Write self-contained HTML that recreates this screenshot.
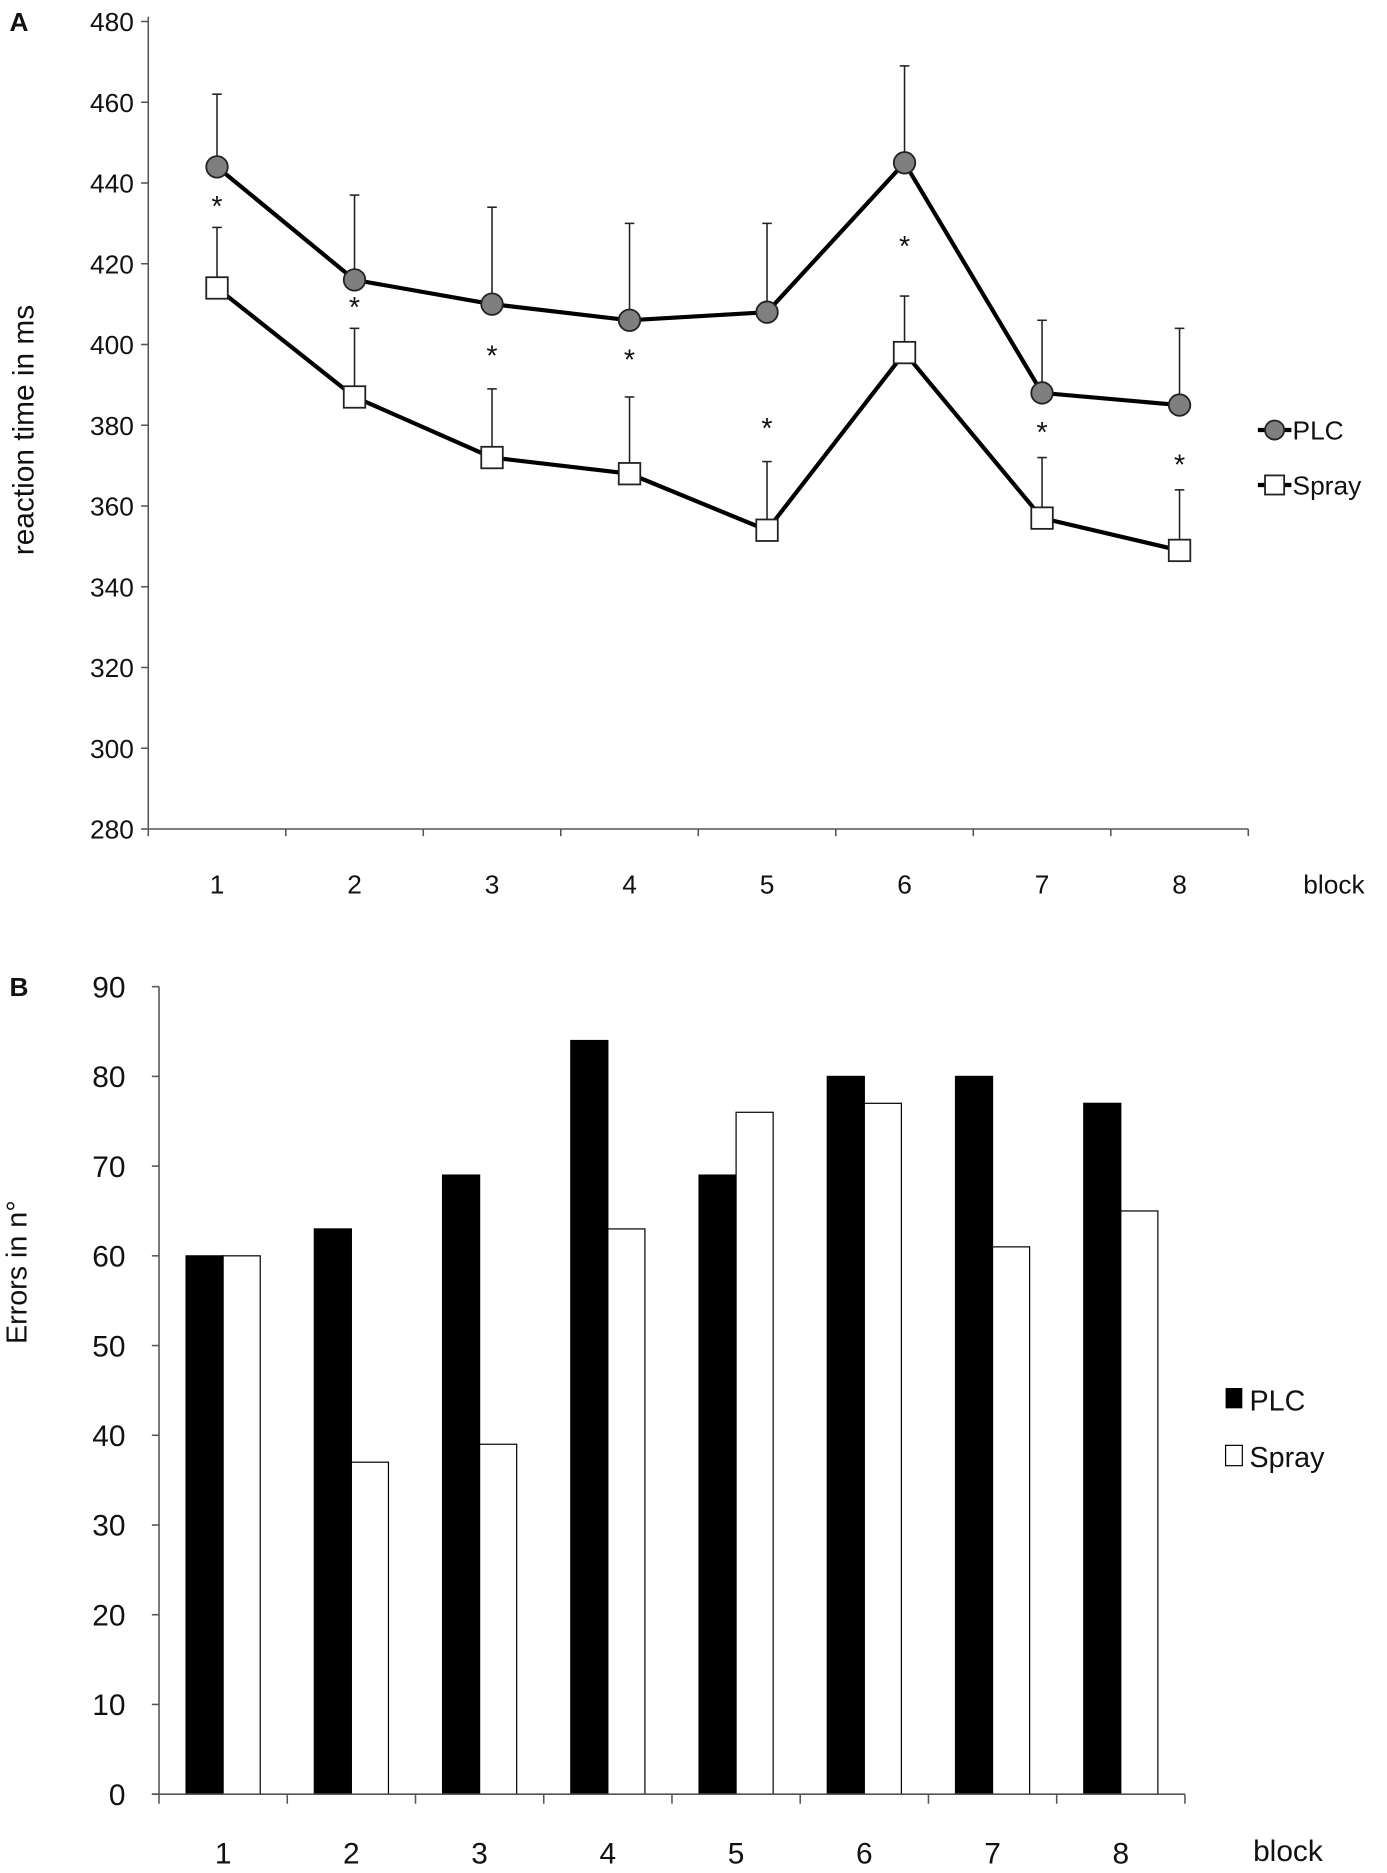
<!DOCTYPE html>
<html><head><meta charset="utf-8"><style>
html,body{margin:0;padding:0;background:#fff;}
svg{display:block;}
text{font-family:"Liberation Sans",sans-serif;fill:#111;}
</style></head><body>
<svg id="fig" width="1387" height="1873" viewBox="0 0 1160 1568" preserveAspectRatio="none" xmlns="http://www.w3.org/2000/svg">
<text x="8" y="26" font-size="22" font-weight="bold">A</text>
<text x="8" y="834" font-size="22" font-weight="bold">B</text>
<g id="chartA"></g>
<g id="chartB"></g>
</svg>
<script>
const blocks = [1,2,3,4,5,6,7,8];
const plcRT = [444,416,410,406,408,445,388,385];
const plcErrTop = [462,437,434,430,430,469,406,404];
const sprayRT = [414,387,372,368,354,398,357,349];
const sprayErrTop = [429,404,389,387,371,412,372,364];
const starVals = [436,411,399,398,381,426,380,372];
const rtTicks = [280,300,320,340,360,380,400,420,440,460,480];
const plcErrors = [60,63,69,84,69,80,80,77];
const sprayErrors = [60,37,39,63,76,77,61,65];
const errTicks = [0,10,20,30,40,50,60,70,80,90];

const NS = "http://www.w3.org/2000/svg";
function mk(parent, tag, attrs, txt){
  const e = document.createElementNS(NS, tag);
  for (const k in attrs) e.setAttribute(k, attrs[k]);
  if (txt !== undefined) e.textContent = txt;
  parent.appendChild(e);
  return e;
}
// ---- Chart A ----
const A = document.getElementById('chartA');
const ax0 = 124, ax1 = 1044, ayTop = 18, ayBot = 694;
const yA = v => ayBot - (v - 280) / 200 * (ayBot - ayTop);
const stepA = (ax1 - ax0) / blocks.length;
const xA = i => ax0 + stepA * (i + 0.5);
let e;
e = mk(A,'line',{x1:ax0,y1:ayTop-4,x2:ax0,y2:ayBot,stroke:'#555','stroke-width':1.3});
 
e = mk(A,'line',{x1:ax0,y1:ayBot,x2:ax1,y2:ayBot,stroke:'#555','stroke-width':1.3});
 
rtTicks.forEach(t=>{
  mk(A,'line',{x1:ax0-6,y1:yA(t),x2:ax0,y2:yA(t),stroke:'#555','stroke-width':1.3});
  e = mk(A,'text',{x:ax0-12,y:yA(t)+8,'font-size':22,'text-anchor':'end'},t);
   
});
for(let i=0;i<=blocks.length;i++){
  const x = ax0 + stepA*i;
  mk(A,'line',{x1:x,y1:ayBot,x2:x,y2:ayBot+6,stroke:'#555','stroke-width':1.3});
}
blocks.forEach((b,i)=>{
  e = mk(A,'text',{x:xA(i),y:748,'font-size':22,'text-anchor':'middle'},b);
   
});
e = mk(A,'text',{x:1090,y:748,'font-size':22},'block');
 
e = mk(A,'text',{x:0,y:0,'font-size':25,'text-anchor':'middle',transform:'translate(28,360) rotate(-90)'},'reaction time in ms');
 
function errBars(vals,tops,name){
  vals.forEach((v,i)=>{
    const g = mk(A,'g',{});
     
    mk(g,'line',{x1:xA(i),y1:yA(v),x2:xA(i),y2:yA(tops[i]),stroke:'#222','stroke-width':1.3});
    mk(g,'line',{x1:xA(i)-4,y1:yA(tops[i]),x2:xA(i)+4,y2:yA(tops[i]),stroke:'#222','stroke-width':1.3});
  });
}
errBars(plcRT,plcErrTop,'plc-error-bar');
errBars(sprayRT,sprayErrTop,'spray-error-bar');
e = mk(A,'polyline',{points:plcRT.map((v,i)=>xA(i)+','+yA(v)).join(' '),fill:'none',stroke:'#000','stroke-width':3.5});
 
e = mk(A,'polyline',{points:sprayRT.map((v,i)=>xA(i)+','+yA(v)).join(' '),fill:'none',stroke:'#000','stroke-width':3.5});
 
plcRT.forEach((v,i)=>{
  e = mk(A,'circle',{cx:xA(i),cy:yA(v),r:9,fill:'#7f7f7f',stroke:'#222','stroke-width':1.5});
   
});
sprayRT.forEach((v,i)=>{
  e = mk(A,'rect',{x:xA(i)-9,y:yA(v)-9,width:18,height:18,fill:'#fff',stroke:'#222','stroke-width':1.5});
   
});
starVals.forEach((v,i)=>{
  e = mk(A,'text',{x:xA(i),y:yA(v)+14,'font-size':24,'text-anchor':'middle'},'*');
   
});
let lg = mk(A,'g',{});
 
mk(lg,'line',{x1:1052,y1:360,x2:1080,y2:360,stroke:'#000','stroke-width':3.5});
mk(lg,'circle',{cx:1066,cy:360,r:8,fill:'#7f7f7f',stroke:'#222','stroke-width':1.5});
mk(lg,'text',{x:1081,y:368,'font-size':22},'PLC');
lg = mk(A,'g',{});
 
mk(lg,'line',{x1:1052,y1:406,x2:1080,y2:406,stroke:'#000','stroke-width':3.5});
mk(lg,'rect',{x:1058,y:398,width:16,height:16,fill:'#fff',stroke:'#222','stroke-width':1.5});
mk(lg,'text',{x:1081,y:414,'font-size':22},'Spray');

// ---- Chart B ----
const B = document.getElementById('chartB');
const bx0 = 133, bx1 = 991, byTop = 826, byBot = 1502;
const yB = v => byBot - v / 90 * (byBot - byTop);
const stepB = (bx1 - bx0) / blocks.length;
const cB = i => bx0 + stepB * (i + 0.5);
const bw = 31;
e = mk(B,'line',{x1:bx0,y1:byTop,x2:bx0,y2:byBot,stroke:'#555','stroke-width':1.3});
 
errTicks.forEach(t=>{
  mk(B,'line',{x1:bx0-6,y1:yB(t),x2:bx0,y2:yB(t),stroke:'#555','stroke-width':1.3});
  e = mk(B,'text',{x:bx0-28,y:yB(t)+9,'font-size':25,'text-anchor':'end'},t);
   
});
for(let i=0;i<=blocks.length;i++){
  const x = bx0 + stepB*i;
  mk(B,'line',{x1:x,y1:byBot,x2:x,y2:byBot+8,stroke:'#555','stroke-width':1.3});
}
plcErrors.forEach((v,i)=>{
  e = mk(B,'rect',{x:cB(i)-bw,y:yB(v),width:bw,height:byBot-yB(v),fill:'#000',stroke:'#000','stroke-width':1});
   
});
sprayErrors.forEach((v,i)=>{
  e = mk(B,'rect',{x:cB(i),y:yB(v),width:bw,height:byBot-yB(v),fill:'#fff',stroke:'#000','stroke-width':1});
   
});
e = mk(B,'line',{x1:bx0-6,y1:byBot,x2:bx1,y2:byBot,stroke:'#555','stroke-width':1.3});
 
blocks.forEach((b,i)=>{
  e = mk(B,'text',{x:cB(i),y:1560,'font-size':25,'text-anchor':'middle'},b);
   
});
e = mk(B,'text',{x:1048,y:1558,'font-size':25},'block');
 
e = mk(B,'text',{x:0,y:0,'font-size':24,'text-anchor':'middle',transform:'translate(22,1065) rotate(-90)'},'Errors in n°');
 
lg = mk(B,'g',{});
 
mk(lg,'rect',{x:1025,y:1162,width:14,height:17,fill:'#000'});
mk(lg,'text',{x:1045,y:1181,'font-size':24},'PLC');
lg = mk(B,'g',{});
 
mk(lg,'rect',{x:1025,y:1210,width:14,height:17,fill:'#fff',stroke:'#000','stroke-width':1});
mk(lg,'text',{x:1045,y:1228,'font-size':24},'Spray');
</script>
</body></html>
